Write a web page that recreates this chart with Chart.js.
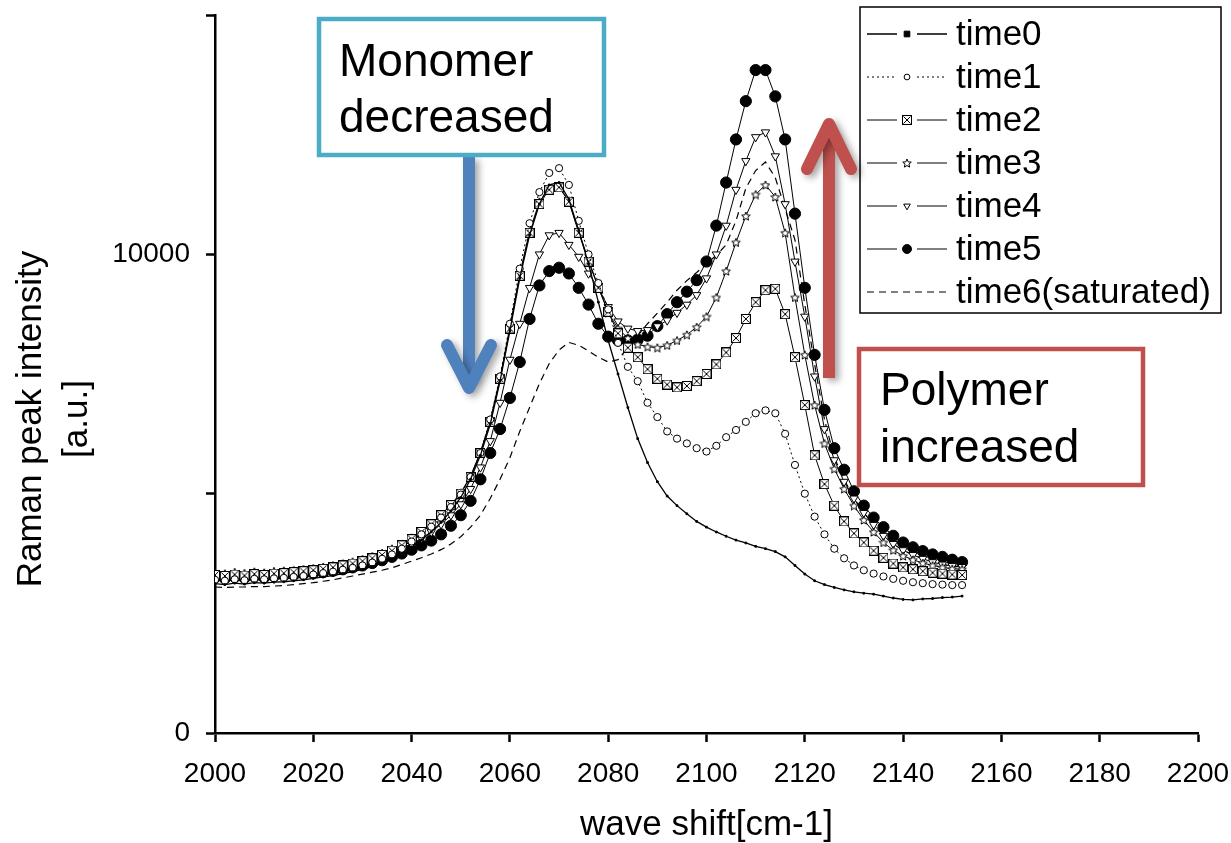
<!DOCTYPE html>
<html>
<head>
<meta charset="utf-8">
<title>Raman peak intensity vs wave shift</title>
<script src="https://cdn.jsdelivr.net/npm/chart.js@4.4.1/dist/chart.umd.min.js"></script>
<style>
  html, body { margin: 0; padding: 0; background: #fff; }
  #wrap { position: relative; width: 1231px; height: 843px; }
</style>
</head>
<body>
<div id="wrap"><canvas id="ramanChart" width="1231" height="843"></canvas></div>
<script>
// --- DATA ---

const waveShift = [
  2000, 2002, 2004, 2006, 2008, 2010, 2012, 2014, 2016, 2018,
  2020, 2022, 2024, 2026, 2028, 2030, 2032, 2034, 2036, 2038,
  2040, 2042, 2044, 2046, 2048, 2050, 2052, 2054, 2056, 2058,
  2060, 2062, 2064, 2066, 2068, 2070, 2072, 2074, 2076, 2078,
  2080, 2082, 2084, 2086, 2088, 2090, 2092, 2094, 2096, 2098,
  2100, 2102, 2104, 2106, 2108, 2110, 2112, 2114, 2116, 2118,
  2120, 2122, 2124, 2126, 2128, 2130, 2132, 2134, 2136, 2138,
  2140, 2142, 2144, 2146, 2148, 2150, 2152
];

const time0 = [
  3120, 3100, 3130, 3110, 3140, 3130, 3150, 3160, 3180, 3200,
  3230, 3260, 3290, 3330, 3370, 3420, 3480, 3550, 3640, 3750,
  3880, 4030, 4200, 4400, 4640, 4920, 5300, 5800, 6450, 7350,
  8400, 9500, 10400, 11050, 11450, 11500, 11150, 10500, 9800, 9000,
  8200, 7500, 6800, 6150, 5650, 5250, 4950, 4750, 4580, 4420,
  4300, 4200, 4110, 4030, 3970, 3900, 3850, 3790, 3680, 3500,
  3320, 3180, 3100, 3040, 2990, 2950, 2920, 2900, 2860, 2820,
  2790, 2780, 2800, 2810, 2830, 2840, 2860
];

const time1 = [
  3200, 3180, 3210, 3190, 3220, 3210, 3230, 3240, 3260, 3280,
  3310, 3340, 3370, 3410, 3450, 3500, 3560, 3640, 3730, 3850,
  4000, 4150, 4310, 4500, 4720, 4980, 5350, 5850, 6550, 7450,
  8550, 9700, 10650, 11300, 11700, 11800, 11450, 10700, 10000, 9400,
  8850, 8150, 7650, 7350, 6900, 6600, 6300, 6150, 6050, 5950,
  5880, 6000, 6180, 6330, 6500, 6680, 6740, 6680, 6250, 5600,
  5000, 4520, 4150, 3850, 3650, 3500, 3400, 3330, 3270, 3220,
  3180, 3150, 3130, 3110, 3100, 3090, 3090
];

const time2 = [
  3300, 3280, 3310, 3290, 3320, 3300, 3330, 3340, 3360, 3380,
  3400, 3430, 3460, 3500, 3540, 3590, 3650, 3720, 3810, 3920,
  4050, 4200, 4360, 4550, 4760, 5000, 5350, 5850, 6500, 7400,
  8450, 9550, 10450, 11050, 11350, 11400, 11100, 10450, 9850, 9300,
  8800, 8350, 8050, 7850, 7600, 7400, 7280, 7220, 7250, 7350,
  7500, 7700, 7950, 8250, 8650, 9000, 9250, 9280, 8750, 7850,
  6850, 5800, 5200, 4750, 4420, 4170, 3980, 3810, 3660, 3540,
  3460, 3420, 3380, 3350, 3330, 3310, 3300
];

const time3 = [
  3350, 3330, 3360, 3340, 3370, 3350, 3380, 3390, 3400, 3420,
  3440, 3470, 3500, 3540, 3580, 3630, 3690, 3760, 3850, 3950,
  4080, 4220, 4380, 4560, 4770, 5020, 5370, 5870, 6520, 7420,
  8480, 9580, 10480, 11100, 11380, 11420, 11120, 10480, 9880, 9320,
  8780, 8450, 8250, 8120, 8070, 8050, 8100, 8200, 8320, 8480,
  8700, 9100, 9650, 10250, 10800, 11250, 11450, 11200, 10450, 9100,
  7900, 6850, 6050, 5520, 5100, 4750, 4450, 4200, 3980, 3820,
  3700, 3620, 3550, 3500, 3460, 3430, 3420
];

const time4 = [
  3300, 3280, 3300, 3290, 3310, 3300, 3320, 3330, 3350, 3370,
  3390, 3420, 3450, 3490, 3530, 3570, 3620, 3690, 3770, 3860,
  3950, 4070, 4200, 4360, 4550, 4780, 5100, 5550, 6100, 6900,
  7800, 8550, 9300, 10000, 10400, 10450, 10200, 9950, 9600, 9300,
  8900, 8600, 8450, 8400, 8420, 8500, 8620, 8780, 8950, 9150,
  9500, 10000, 10600, 11350, 11950, 12450, 12550, 12050, 11050, 9850,
  8700, 7450, 6350, 5700, 5250, 4900, 4600, 4350, 4120, 3950,
  3820, 3720, 3640, 3570, 3520, 3490, 3470
];

const time5 = [
  3250, 3230, 3260, 3240, 3270, 3250, 3280, 3290, 3300, 3320,
  3340, 3360, 3390, 3420, 3460, 3500, 3550, 3610, 3680, 3750,
  3830, 3920, 4020, 4150, 4330, 4550, 4850, 5300, 5850, 6350,
  7000, 7750, 8650, 9350, 9650, 9720, 9600, 9300, 8950, 8550,
  8280, 8200, 8200, 8220, 8300, 8500, 8750, 9000, 9220, 9460,
  9850, 10600, 11500, 12400, 13200, 13850, 13850, 13300, 12400, 10850,
  9300, 7900, 6750, 5950, 5500, 5050, 4750, 4500, 4300, 4120,
  3980, 3880, 3800, 3730, 3680, 3620, 3570
];

const time6 = [
  3050, 3040, 3050, 3050, 3060, 3060, 3070, 3080, 3100, 3120,
  3140, 3170, 3200, 3240, 3280, 3320, 3360, 3400, 3450, 3520,
  3590, 3660, 3740, 3830, 3950, 4100, 4300, 4550, 4900, 5300,
  5750, 6300, 6800, 7300, 7720, 8000, 8160, 8100, 7980, 7850,
  7750, 7800, 8050, 8300, 8550, 8770, 9000, 9250, 9450, 9620,
  9800, 9980, 10200, 10700, 11380, 11750, 11930, 11600, 10950, 10300,
  8950, 7700, 6550, 5750, 5300, 4900, 4600, 4350, 4120, 3950,
  3820, 3720, 3640, 3570, 3520, 3490, 3470
];

const seriesLabels = ['time0', 'time1', 'time2', 'time3', 'time4', 'time5', 'time6(saturated)'];
const yTickLabels = [0, 10000];

// --- STYLE HELPERS ---

const FONT = '"Liberation Sans", Arial, Helvetica, sans-serif';

function makeBoxX(size) {
    const c = document.createElement('canvas');
    c.width = size; c.height = size;
    const g = c.getContext('2d');
    g.fillStyle = '#fff';
    g.fillRect(0, 0, size, size);
    g.strokeStyle = '#000';
    g.lineWidth = 1;
    g.strokeRect(0.5, 0.5, size - 1, size - 1);
    g.beginPath();
    g.moveTo(1.5, 1.5); g.lineTo(size - 1.5, size - 1.5);
    g.moveTo(size - 1.5, 1.5); g.lineTo(1.5, size - 1.5);
    g.stroke();
    return c;
}

function makeStar(size) {
    const c = document.createElement('canvas');
    c.width = size; c.height = size;
    const g = c.getContext('2d');
    const cx = size / 2, cy = size / 2 + 0.5, ro = size / 2 - 0.5, ri = ro * 0.45;
    g.beginPath();
    for (let k = 0; k < 10; k++) {
        const r = k % 2 ? ri : ro;
        const a = -Math.PI / 2 + k * Math.PI / 5;
        const px = cx + r * Math.cos(a), py = cy + r * Math.sin(a);
        if (k === 0) g.moveTo(px, py); else g.lineTo(px, py);
    }
    g.closePath();
    g.fillStyle = '#fff'; g.fill();
    g.strokeStyle = '#000'; g.lineWidth = 1; g.stroke();
    return c;
}

const boxX = makeBoxX(10);
const star = makeStar(10);

function toPoints(values) {
    return waveShift.map((x, i) => ({ x: x, y: values[i] }));
}

function lineSet(label, values, extra) {
    return Object.assign({
        label: label,
        data: toPoints(values),
        borderColor: '#000',
        borderWidth: 1,
        borderDash: [],
        pointBackgroundColor: '#000',
        pointBorderColor: '#000',
        pointBorderWidth: 1,
        pointRadius: 0,
        pointHoverRadius: 0,
        tension: 0,
        fill: false,
        legendGap: true
    }, extra);
}

const datasets = [
    lineSet(seriesLabels[0], time0, { borderWidth: 1.3, pointStyle: 'rect', pointRadius: 1.2 }),
    lineSet(seriesLabels[1], time1, { borderDash: [2, 3], pointStyle: 'circle', pointRadius: 3.6, pointBackgroundColor: '#fff', pointBorderWidth: 1 }),
    lineSet(seriesLabels[2], time2, { pointStyle: boxX, pointRadius: 5 }),
    lineSet(seriesLabels[3], time3, { pointStyle: star, pointRadius: 5 }),
    lineSet(seriesLabels[4], time4, { pointStyle: 'triangle', pointRotation: 180, pointRadius: 4.8, pointBackgroundColor: '#fff' }),
    lineSet(seriesLabels[5], time5, { pointStyle: 'circle', pointRadius: 5.6 }),
    lineSet(seriesLabels[6], time6, { borderWidth: 1.2, borderDash: [7, 5], legendGap: false })
];

// --- OVERLAYS: y title, legend, notes ---

function drawYTitle(ctx) {
    ctx.save();
    ctx.fillStyle = '#000';
    ctx.font = '35px ' + FONT;
    ctx.textAlign = 'center';
    ctx.textBaseline = 'alphabetic';
    [['Raman peak intensity', 41], ['[a.u.]', 87]].forEach(([txt, bx]) => {
        ctx.save();
        ctx.translate(bx, 419);
        ctx.rotate(-Math.PI / 2);
        ctx.fillText(txt, 0, 0);
        ctx.restore();
    });
    ctx.restore();
}

function drawLegend(chart) {
    const ctx = chart.ctx;
    const x0 = 860, y0 = 7, w = 361, h = 306;
    ctx.save();
    ctx.fillStyle = '#fff';
    ctx.fillRect(x0, y0, w, h);
    ctx.strokeStyle = '#000';
    ctx.lineWidth = 1.5;
    ctx.strokeRect(x0, y0, w, h);

    chart.data.datasets.forEach((ds, i) => {
        const cy = 34 + i * 43;
        ctx.strokeStyle = '#000';
        ctx.lineWidth = ds.borderWidth;
        ctx.setLineDash(ds.borderDash);
        ctx.beginPath();
        if (ds.legendGap) {
            ctx.moveTo(867, cy); ctx.lineTo(897, cy);
            ctx.moveTo(917, cy); ctx.lineTo(947, cy);
        } else {
            ctx.moveTo(867, cy); ctx.lineTo(947, cy);
        }
        ctx.stroke();
        ctx.setLineDash([]);
        if (ds.pointRadius > 0) {
            ctx.fillStyle = ds.pointBackgroundColor;
            ctx.strokeStyle = ds.pointBorderColor;
            ctx.lineWidth = ds.pointBorderWidth;
            let r = ds.pointRadius * 0.8;
            if (ds.pointStyle === 'rect') r = 4;
            Chart.helpers.drawPoint(ctx, {
                pointStyle: ds.pointStyle, radius: r, rotation: ds.pointRotation || 0, borderWidth: ds.pointBorderWidth
            }, 907, cy);
        }
        ctx.fillStyle = '#000';
        ctx.font = '35px ' + FONT;
        ctx.textAlign = 'left';
        ctx.textBaseline = 'middle';
        ctx.fillText(ds.label, 956, cy + 1);
    });
    ctx.restore();
}

function drawArrow(ctx, color, x, yTail, yTip, headW, headH) {
    const dir = yTip > yTail ? 1 : -1;
    ctx.save();
    ctx.shadowColor = 'rgba(0,0,0,0.35)';
    ctx.shadowBlur = 7;
    ctx.shadowOffsetX = 4;
    ctx.shadowOffsetY = 3;
    ctx.strokeStyle = color;
    ctx.lineWidth = 12;
    ctx.lineCap = 'butt';
    ctx.beginPath();
    ctx.moveTo(x, yTail);
    ctx.lineTo(x, yTip - dir * 8);
    ctx.stroke();
    ctx.lineCap = 'round';
    ctx.lineJoin = 'round';
    ctx.beginPath();
    ctx.moveTo(x - headW, yTip - dir * headH);
    ctx.lineTo(x, yTip);
    ctx.lineTo(x + headW, yTip - dir * headH);
    ctx.stroke();
    ctx.restore();
}

function drawNote(ctx, x, y, w, h, color, lines, tx, baselines) {
    ctx.save();
    ctx.fillStyle = '#fff';
    ctx.fillRect(x, y, w, h);
    ctx.strokeStyle = color;
    ctx.lineWidth = 4.5;
    ctx.strokeRect(x, y, w, h);
    ctx.fillStyle = '#000';
    ctx.font = '46px ' + FONT;
    ctx.textAlign = 'left';
    ctx.textBaseline = 'alphabetic';
    lines.forEach((t, i) => ctx.fillText(t, tx, baselines[i]));
    ctx.restore();
}

const overlayPlugin = {
    id: 'overlay',
    afterDraw(chart) {
        const ctx = chart.ctx;
        drawYTitle(ctx);
        drawLegend(chart);
        drawArrow(ctx, '#4F81BD', 469, 157, 388, 22, 43);
        drawNote(ctx, 319, 19, 285, 136, '#4BACC6', ['Monomer', 'decreased'], 339, [76, 132]);
        drawArrow(ctx, '#C0504D', 829, 378, 124, 22, 45);
        drawNote(ctx, 859, 349, 284, 136, '#C0504D', ['Polymer', 'increased'], 880, [405, 462]);
    }
};

// --- CHART ---

const axisGrid = {
    display: true,
    drawOnChartArea: false,
    drawTicks: true,
    tickLength: 9,
    tickWidth: 2.5,
    tickColor: '#000'
};
const axisBorder = { display: true, color: '#000', width: 2.5 };

new Chart(document.getElementById('ramanChart'), {
    type: 'line',
    data: { datasets: datasets },
    options: {
        responsive: false,
        animation: false,
        devicePixelRatio: 1,
        layout: { padding: { left: 0, right: 33, top: 15, bottom: 0 } },
        plugins: {
            legend: { display: false },
            tooltip: { enabled: false }
        },
        scales: {
            x: {
                type: 'linear',
                min: 2000,
                max: 2200,
                ticks: {
                    stepSize: 20,
                    autoSkip: false,
                    maxRotation: 0,
                    color: '#000',
                    padding: 15,
                    font: { family: FONT, size: 28 },
                    callback: v => String(v)
                },
                grid: axisGrid,
                border: axisBorder,
                title: {
                    display: true,
                    text: 'wave shift[cm-1]',
                    color: '#000',
                    padding: 0,
                    font: { family: FONT, size: 35, lineHeight: 1 }
                },
                afterFit: s => {
                    s.height = 110;
                    s.paddingLeft = 0;
                    s.paddingRight = 0;
                }
            },
            y: {
                type: 'linear',
                min: 0,
                max: 15000,
                ticks: {
                    stepSize: 5000,
                    color: '#000',
                    padding: 16,
                    font: { family: FONT, size: 28 },
                    callback: v => yTickLabels.includes(v) ? String(v) : ''
                },
                grid: axisGrid,
                border: axisBorder,
                afterFit: s => {
                    s.width = 215;
                    s.paddingTop = 0;
                    s.paddingBottom = 0;
                }
            }
        }
    },
    plugins: [overlayPlugin]
});
</script>
</body>
</html>
